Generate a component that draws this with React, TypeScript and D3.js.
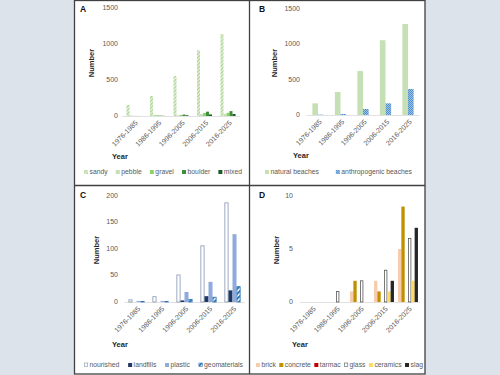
import React from "react";
import * as d3 from "d3";

const years = ["1976-1985", "1986-1995", "1996-2005", "2006-2015", "2016-2025"];

// Panel A
const sandy = [155, 280, 555, 912, 1138];
const pebble = [5, 18, 10, 25, 28];
const gravel = [2, 10, 15, 42, 45];
const boulder = [1, 5, 20, 60, 68];
const mixed = [0, 2, 10, 22, 28];

// Panel B
const naturalBeaches = [165, 325, 622, 1058, 1288];
const anthropogenicBeaches = [5, 15, 85, 165, 368];

// Panel C
const nourished = [4, 10, 51, 106, 187];
const landfills = [0, 0, 3, 11, 22];
const plastic = [2, 2, 19, 38, 128];
const geomaterials = [1, 1, 5, 9, 29];

// Panel D
const brick = [0, 0, 1, 2, 5];
const concrete = [0, 0, 2, 1, 9];
const tarmac = [0, 0, 0, 0, 0];
const glass = [0, 1, 2, 3, 6];
const ceramics = [0, 0, 0, 1, 2];
const slag = [0, 0, 0, 2, 7];

const ticksA = [0, 500, 1000, 1500];
const ticksB = [0, 500, 1000, 1500];
const ticksC = [0, 50, 100, 150, 200];
const ticksD = [0, 5, 10];

type Series = { name: string; values: number[]; fill: string; stroke?: string };

type PanelCfg = {
  letter: string;
  letterX: number;
  letterY: number;
  series: Series[];
  ticks: number[];
  yMax: number;
  y0: number;
  y1: number;
  tickRight: number;
  xRange: [number, number];
  padding: number;
  titleX: number;
  titleY: number;
  yearX: number;
  yearY: number;
  legendY: number;
  legendStart: number;
  legendEnd: number;
};

const FONT = "'Liberation Sans', Arial, sans-serif";
const LEG_FS = 6.8;
const MARK = 4;
const MARK_GAP = 1.5;

let ctx: CanvasRenderingContext2D | null = null;
function textWidth(s: string, fs: number) {
  if (!ctx) {
    const c = document.createElement("canvas");
    ctx = c.getContext("2d");
  }
  if (!ctx) return s.length * fs * 0.5;
  ctx.font = `${fs}px 'Liberation Sans', Arial, sans-serif`;
  return ctx.measureText(s).width;
}

function Panel({ cfg }: { cfg: PanelCfg }) {
  const y = d3.scaleLinear().domain([0, cfg.yMax]).range([cfg.y0, cfg.y1]);
  const x = d3
    .scaleBand<string>()
    .domain(years)
    .range(cfg.xRange)
    .paddingInner(cfg.padding)
    .paddingOuter(cfg.padding / 2);
  const xs = d3
    .scaleBand<string>()
    .domain(cfg.series.map((s) => s.name))
    .range([0, x.bandwidth()]);

  const widths = cfg.series.map((s) => MARK + MARK_GAP + textWidth(s.name, LEG_FS));
  const total = widths.reduce((a, b) => a + b, 0);
  const gap = cfg.series.length > 1 ? (cfg.legendEnd - cfg.legendStart - total) / (cfg.series.length - 1) : 0;
  const legendX: number[] = [];
  let acc = cfg.legendStart;
  widths.forEach((w) => {
    legendX.push(acc);
    acc += w + gap;
  });

  return (
    <g fontFamily={FONT}>
      <text x={cfg.letterX} y={cfg.letterY} fontSize={8.5} fontWeight="bold" fill="#111" dominantBaseline="middle">
        {cfg.letter}
      </text>
      {cfg.ticks.map((t) => (
        <text key={t} x={cfg.tickRight} y={y(t)} fontSize={7} fill="#595959" textAnchor="end" dominantBaseline="middle">
          {t}
        </text>
      ))}
      <line x1={cfg.xRange[0]} x2={cfg.xRange[1]} y1={cfg.y0 + 0.5} y2={cfg.y0 + 0.5} stroke="#d9d9d9" strokeWidth={0.8} />
      {cfg.series.map((s) =>
        s.values.map((v, i) => {
          if (v <= 0) return null;
          const h = cfg.y0 - y(v);
          const bx = (x(years[i]) as number) + (xs(s.name) as number);
          const w = xs.bandwidth();
          return (
            <rect
              key={s.name + i}
              x={s.stroke ? bx + 0.4 : bx}
              y={y(v)}
              width={s.stroke ? w - 0.8 : w}
              height={h}
              fill={s.fill}
              stroke={s.stroke || "none"}
              strokeWidth={s.stroke ? 0.8 : 0}
            />
          );
        })
      )}
      {years.map((yr) => {
        const cx = (x(yr) as number) + x.bandwidth() / 2 + 3;
        return (
          <text
            key={yr}
            transform={`translate(${cx},${cfg.y0 + 6}) rotate(-45)`}
            fontSize={7}
            fill="#595959"
            textAnchor="end"
            dominantBaseline="middle"
          >
            {yr}
          </text>
        );
      })}
      <text
        transform={`translate(${cfg.titleX},${cfg.titleY}) rotate(-90)`}
        fontSize={7.5}
        fontWeight="bold"
        fill="#262626"
        textAnchor="middle"
        dominantBaseline="middle"
      >
        Number
      </text>
      <text x={cfg.yearX} y={cfg.yearY} fontSize={7.5} fontWeight="bold" fill="#262626">
        Year
      </text>
      {cfg.series.map((s, i) => (
        <g key={s.name} transform={`translate(${legendX[i]},${cfg.legendY})`}>
          <rect
            x={s.stroke ? 0.3 : 0}
            y={-2}
            width={s.stroke ? MARK - 0.6 : MARK}
            height={s.stroke ? MARK - 0.6 : MARK}
            fill={s.fill}
            stroke={s.stroke || "none"}
            strokeWidth={0.6}
          />
          <text x={MARK + MARK_GAP} y={0} fontSize={LEG_FS} fill="#595959" dominantBaseline="middle">
            {s.name}
          </text>
        </g>
      ))}
    </g>
  );
}

export default function App() {
  const panels: PanelCfg[] = [
    {
      letter: "A",
      letterX: 80,
      letterY: 10,
      series: [
        { name: "sandy", values: sandy, fill: "url(#hatchSandy)" },
        { name: "pebble", values: pebble, fill: "#c5e0b4" },
        { name: "gravel", values: gravel, fill: "#8fd16f" },
        { name: "boulder", values: boulder, fill: "#3f8f3a" },
        { name: "mixed", values: mixed, fill: "#1f5c2a" },
      ],
      ticks: ticksA,
      yMax: 1500,
      y0: 116,
      y1: 8,
      tickRight: 118,
      xRange: [122.25, 239.75],
      padding: 0.36,
      titleX: 92,
      titleY: 63,
      yearX: 112,
      yearY: 159,
      legendY: 172,
      legendStart: 84,
      legendEnd: 242,
    },
    {
      letter: "B",
      letterX: 259,
      letterY: 10,
      series: [
        { name: "natural beaches", values: naturalBeaches, fill: "#c5e0b4" },
        { name: "anthropogenic beaches", values: anthropogenicBeaches, fill: "url(#checkAnthro)" },
      ],
      ticks: ticksB,
      yMax: 1500,
      y0: 115,
      y1: 9,
      tickRight: 300,
      xRange: [306.75, 419.25],
      padding: 0.5,
      titleX: 275,
      titleY: 63,
      yearX: 293,
      yearY: 158,
      legendY: 172,
      legendStart: 265,
      legendEnd: 412,
    },
    {
      letter: "C",
      letterX: 80,
      letterY: 196,
      series: [
        { name: "nourished", values: nourished, fill: "#ffffff", stroke: "#8497b0" },
        { name: "landfills", values: landfills, fill: "#1f3864" },
        { name: "plastic", values: plastic, fill: "#8faadc" },
        { name: "geomaterials", values: geomaterials, fill: "url(#stripeGeo)", stroke: "#2e75b6" },
      ],
      ticks: ticksC,
      yMax: 200,
      y0: 302,
      y1: 196,
      tickRight: 118,
      xRange: [124.5, 244.5],
      padding: 0.33,
      titleX: 97,
      titleY: 250,
      yearX: 112,
      yearY: 347,
      legendY: 365,
      legendStart: 84,
      legendEnd: 243,
    },
    {
      letter: "D",
      letterX: 259,
      letterY: 196,
      series: [
        { name: "brick", values: brick, fill: "#f8cbad" },
        { name: "concrete", values: concrete, fill: "#bf9000" },
        { name: "tarmac", values: tarmac, fill: "#c00000" },
        { name: "glass", values: glass, fill: "#ffffff", stroke: "#595959" },
        { name: "ceramics", values: ceramics, fill: "#ffd966" },
        { name: "slag", values: slag, fill: "#262626" },
      ],
      ticks: ticksD,
      yMax: 10,
      y0: 302,
      y1: 196,
      tickRight: 293,
      xRange: [300, 420],
      padding: 0.17,
      titleX: 277,
      titleY: 250,
      yearX: 292,
      yearY: 347,
      legendY: 365,
      legendStart: 256,
      legendEnd: 423,
    },
  ];

  return (
    <div style={{ position: "fixed", left: 0, top: 0 }}>
      <svg width={500} height={375} style={{ display: "block" }}>
        <defs>
          <pattern id="hatchSandy" patternUnits="userSpaceOnUse" width={2.5} height={2.5} patternTransform="rotate(45)">
            <rect width={2.5} height={2.5} fill="#e4f1dc" />
            <rect width={1.1} height={2.5} fill="#a9d18e" />
          </pattern>
          <pattern id="checkAnthro" patternUnits="userSpaceOnUse" width={2} height={2}>
            <rect width={2} height={2} fill="#9dc3e6" />
            <rect width={1} height={1} fill="#4f8fd0" />
            <rect x={1} y={1} width={1} height={1} fill="#4f8fd0" />
          </pattern>
          <pattern id="stripeGeo" patternUnits="userSpaceOnUse" width={3.5} height={3.5} patternTransform="rotate(45)">
            <rect width={3.5} height={3.5} fill="#ffffff" />
            <rect width={2} height={3.5} fill="#2e75b6" />
          </pattern>
        </defs>
        <rect width={500} height={375} fill="#dce3ea" />
        <rect x={74} y={0} width={351} height={375} fill="#ffffff" />
        <g stroke="#404040" strokeWidth={1.3} fill="none">
          <rect x={74.5} y={0.5} width={350.5} height={373.5} />
          <line x1={249.5} x2={249.5} y1={0} y2={374} />
          <line x1={74} x2={425} y1={185.5} y2={185.5} />
        </g>
        {panels.map((p) => (
          <Panel key={p.letter} cfg={p} />
        ))}
      </svg>
    </div>
  );
}
